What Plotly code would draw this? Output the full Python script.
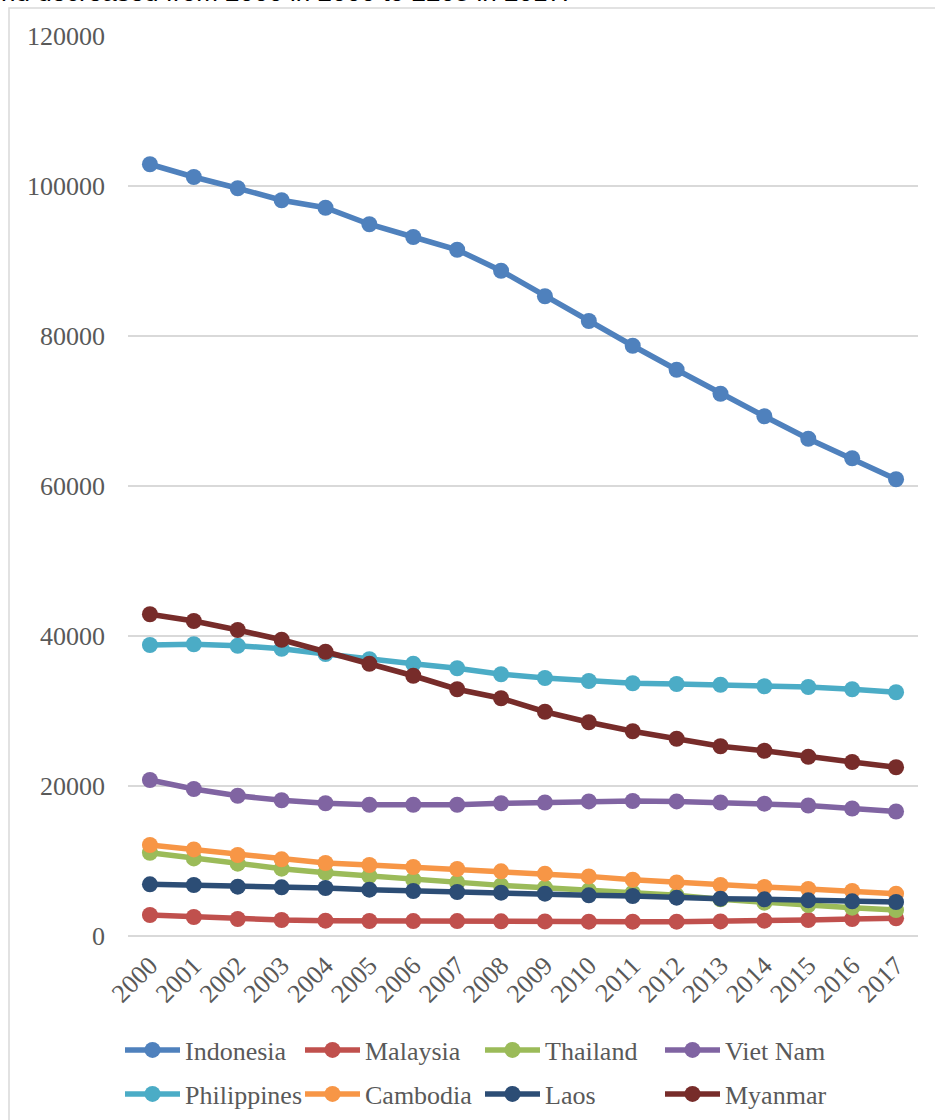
import plotly.graph_objects as go

years = [str(y) for y in range(2000, 2018)]

indonesia = [102900, 101200, 99700, 98100, 97100, 94900, 93200, 91500, 88700, 85300,
             82000, 78700, 75500, 72300, 69300, 66300, 63700, 60900]
malaysia = [2800, 2530, 2270, 2130, 2040, 2000, 1990, 1990, 1960, 1950,
            1910, 1910, 1910, 1950, 2040, 2130, 2270, 2360]
thailand = [11100, 10350, 9640, 8980, 8440, 8000, 7510, 7150, 6750, 6440,
            6090, 5780, 5420, 4890, 4440, 4130, 3780, 3470]
vietnam = [20800, 19600, 18700, 18100, 17700, 17500, 17500, 17500, 17700, 17800,
           17950, 18000, 17950, 17800, 17650, 17400, 17000, 16600]
philippines = [38800, 38900, 38700, 38300, 37600, 36900, 36300, 35700, 34900, 34400,
               34000, 33700, 33600, 33500, 33300, 33200, 32900, 32500]
cambodia = [12130, 11550, 10800, 10220, 9730, 9470, 9200, 8930, 8620, 8310,
            7950, 7510, 7150, 6800, 6530, 6270, 6000, 5640]
laos = [6890, 6800, 6580, 6490, 6400, 6180, 6000, 5870, 5780, 5640,
        5420, 5330, 5110, 4980, 4890, 4760, 4620, 4530]
myanmar = [42900, 42000, 40800, 39500, 37900, 36300, 34700, 32900, 31700, 29900,
           28500, 27300, 26300, 25300, 24700, 23900, 23200, 22500]

series = [
    ("Indonesia", indonesia, "#4F81BD"),
    ("Malaysia", malaysia, "#C0504D"),
    ("Thailand", thailand, "#9BBB59"),
    ("Viet Nam", vietnam, "#8064A2"),
    ("Philippines", philippines, "#4BACC6"),
    ("Cambodia", cambodia, "#F79646"),
    ("Laos", laos, "#2C4D75"),
    ("Myanmar", myanmar, "#772C2A"),
]

W, H = 935, 1120
L, R, T, B = 128, 17, 36, 184
pw, ph = W - L - R, H - T - B

def px2x(p):
    return (p - L) / pw

def py2y(p):
    return (H - B - p) / ph

fig = go.Figure()
for i, (name, vals, col) in enumerate(series):
    fig.add_trace(go.Scatter(
        x=years, y=vals, name=name, mode="lines+markers",
        line=dict(color=col, width=5.5),
        marker=dict(color=col, size=16),
        legend="legend" if i < 4 else "legend2",
    ))

font_family = "Liberation Serif"
fs = 26
leg_common = dict(
    orientation="h", xanchor="left", yanchor="middle",
    entrywidth=110, entrywidthmode="pixels", itemwidth=55,
    font=dict(family=font_family, size=fs, color="#595959"),
    traceorder="normal", bgcolor="rgba(0,0,0,0)",
)
fig.update_layout(
    width=W, height=H, autosize=False,
    margin=dict(l=L, r=R, t=T, b=B, autoexpand=False),
    paper_bgcolor="white", plot_bgcolor="white",
    font=dict(family=font_family, color="#595959", size=fs),
    showlegend=True,
    legend=dict(x=px2x(120), y=py2y(1050), **leg_common),
    legend2=dict(x=px2x(120), y=py2y(1094), **leg_common),
    xaxis=dict(
        type="category", range=[-0.5, 17.5], tickangle=-45,
        showgrid=False, showline=False, zeroline=False, ticks="",
        ticklabelstandoff=8,
        tickfont=dict(family=font_family, size=fs, color="#595959"),
    ),
    yaxis=dict(
        range=[0, 120000], dtick=20000, tickformat="d",
        showgrid=True, gridcolor="#D9D9D9", gridwidth=1.5,
        zeroline=True, zerolinecolor="#D9D9D9", zerolinewidth=1.5,
        showline=False, ticks="", ticklabelstandoff=22,
        tickfont=dict(family=font_family, size=fs, color="#595959"),
    ),
    shapes=[
        dict(type="rect", xref="paper", yref="paper",
             x0=px2x(9), x1=px2x(945), y0=py2y(1130), y1=py2y(8),
             line=dict(color="#D9D9D9", width=1.5), fillcolor="rgba(0,0,0,0)", layer="below"),
    ],
    annotations=[
        dict(text="nd decreased from 2000 in 2000 to 2205 in 2017.", xref="paper", yref="paper",
             x=px2x(571), y=py2y(9), xanchor="right", yanchor="bottom", showarrow=False,
             font=dict(family="Liberation Sans", size=26, color="black")),
    ],
)

fig.write_html("out.html", config={"displayModeBar": False, "responsive": False},
               post_script="document.body.style.margin='0';")
